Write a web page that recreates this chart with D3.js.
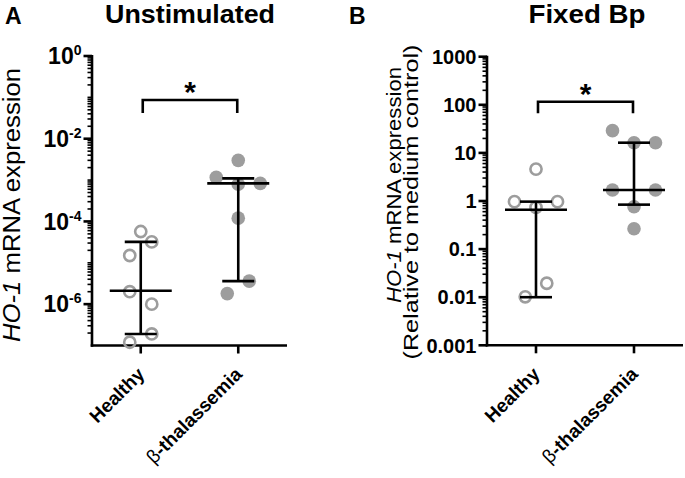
<!DOCTYPE html>
<html>
<head>
<meta charset="utf-8">
<script src="https://cdn.jsdelivr.net/npm/d3@7"></script>
<style>
  body { margin: 0; background: #fff; }
  svg { display: block; font-family: "Liberation Sans", Arial, sans-serif; }
</style>
</head>
<body>
<script>
// categories
var groups = ["Healthy", "β-thalassemia"];

// panel A (unstimulated), values per donor
var aHealthy = [5.7e-5, 3.2e-5, 1.5e-5, 2.0e-6, 1.0e-6, 1.9e-7, 1.2e-7];
var aThal = [3.0e-3, 1.16e-3, 7.9e-4, 8.3e-4, 1.2e-4, 3.6e-6, 1.8e-6];
// dot column within each group
var aHealthyCol = [0, 1, -1, -1, 1, 1, -1];
var aThalCol = [0, -2, 0, 2, 0, 1, -1];
// median, upper, lower of IQR
var aHealthyStats = [2.1e-6, 3.2e-5, 1.9e-7];
var aThalStats = [8.3e-4, 1.1e-3, 3.6e-6];

// panel B (fixed Bp, relative to medium)
var bHealthy = [4.6, 0.97, 0.97, 0.74, 0.0195, 0.0102];
var bThal = [29, 16.3, 16.3, 1.69, 1.69, 0.76, 0.265];
var bHealthyCol = [0, -2, 2, 0, 1, -1];
var bThalCol = [-2, 0, 2, -2, 2, 0, 0];
var bHealthyStats = [0.66, 0.97, 0.01];
var bThalStats = [1.69, 16.3, 0.84];

// significance brackets [bar value, leg value]
var aBracket = [0.086, 0.042];
var bBracket = [116, 67];

var aTicks = [1, 1e-2, 1e-4, 1e-6];
var aTickExp = ["0", "-2", "-4", "-6"];
var bTicks = [1000, 100, 10, 1, 0.1, 0.01, 0.001];
var bTickLabels = ["1000", "100", "10", "1", "0.1", "0.01", "0.001"];

var W = 685, H = 478;
var grey = "#9d9d9d";
var lw = 2.6;

var svg = d3.select("body").append("svg")
    .attr("width", W)
    .attr("height", H);

function drawPanel(p) {
    var g = svg.append("g");
    var x = d3.scalePoint().domain(groups).range([p.x0, p.x1]).padding(0.5);
    var y = d3.scaleLog().domain(p.domain).range([p.yb, p.yt]);

    // minor ticks
    var minor = [];
    var lo = Math.round(Math.log10(p.domain[0])), hi = Math.round(Math.log10(p.domain[1]));
    for (var e = lo; e < hi; e++) {
        for (var k = 2; k <= 10; k++) {
            var v = k * Math.pow(10, e);
            if (!p.ticks.some(function(t){ return Math.abs(t - v) / t < 1e-9; })) minor.push(v);
        }
    }
    g.selectAll(".minor").data(minor).enter().append("line")
        .attr("x1", p.x0 - 4.5).attr("x2", p.x0)
        .attr("y1", function(d){ return y(d); }).attr("y2", function(d){ return y(d); })
        .attr("stroke", "#000").attr("stroke-width", 1.6);

    g.selectAll(".major").data(p.ticks).enter().append("line")
        .attr("x1", p.x0 - 8.5).attr("x2", p.x0)
        .attr("y1", function(d){ return y(d); }).attr("y2", function(d){ return y(d); })
        .attr("stroke", "#000").attr("stroke-width", lw);

    // axis lines
    g.append("line").attr("x1", p.x0).attr("x2", p.x0)
        .attr("y1", p.yt - 1).attr("y2", p.yb + lw / 2)
        .attr("stroke", "#000").attr("stroke-width", lw);
    g.append("line").attr("x1", p.x0 - lw / 2).attr("x2", p.x1)
        .attr("y1", p.yb).attr("y2", p.yb)
        .attr("stroke", "#000").attr("stroke-width", lw);

    // x ticks
    g.selectAll(".xt").data(groups).enter().append("line")
        .attr("x1", function(d){ return x(d); }).attr("x2", function(d){ return x(d); })
        .attr("y1", p.yb).attr("y2", p.yb + 8)
        .attr("stroke", "#000").attr("stroke-width", lw);

    // tick labels
    var tl = g.selectAll(".tl").data(p.ticks).enter().append("text")
        .attr("x", p.x0 - 10.5)
        .attr("y", function(d){ return y(d) + p.tickFont * 0.36; })
        .attr("text-anchor", "end")
        .attr("font-size", p.tickFont + "px")
        .attr("font-weight", "bold");
    if (p.exps) {
        tl.text("10").append("tspan")
            .attr("dy", -9).attr("font-size", "14px")
            .text(function(d, i){ return p.exps[i]; });
    } else {
        tl.text(function(d, i){ return p.labels[i]; });
    }

    // category labels, rotated 45 degrees
    g.selectAll(".cl").data(groups).enter().append("g")
        .attr("transform", function(d){ return "translate(" + (x(d) + 5) + "," + (p.yb + 30) + ")"; })
        .append("text")
        .attr("transform", "rotate(-45)")
        .attr("text-anchor", "end")
        .attr("font-size", "19px")
        .attr("font-weight", "bold")
        .each(function(d){
            var t = d3.select(this);
            if (d.charAt(0) === "β") {
                t.append("tspan").attr("font-weight", "normal").text("β");
                t.append("tspan").text(d.slice(1));
            } else {
                t.text(d);
            }
        });

    // dots
    var sets = [
        {grp: groups[0], vals: p.healthy, cols: p.healthyCol, open: true},
        {grp: groups[1], vals: p.thal, cols: p.thalCol, open: false}
    ];
    sets.forEach(function(s){
        g.selectAll(null).data(s.vals).enter().append("circle")
            .attr("cx", function(d, i){ return x(s.grp) + s.cols[i] * p.unit; })
            .attr("cy", function(d){ return y(d); })
            .attr("r", s.open ? 5.6 : 6.8)
            .attr("fill", s.open ? "none" : grey)
            .attr("stroke", s.open ? grey : "none")
            .attr("stroke-width", 2.6);
    });

    // median + IQR
    [[groups[0], p.healthyStats], [groups[1], p.thalStats]].forEach(function(m){
        var cx = x(m[0]), st = m[1];
        g.append("line").attr("x1", cx).attr("x2", cx)
            .attr("y1", y(st[1])).attr("y2", y(st[2]))
            .attr("stroke", "#000").attr("stroke-width", lw);
        g.append("line").attr("x1", cx - 31).attr("x2", cx + 31)
            .attr("y1", y(st[0])).attr("y2", y(st[0]))
            .attr("stroke", "#000").attr("stroke-width", lw);
        [st[1], st[2]].forEach(function(v){
            g.append("line").attr("x1", cx - 16).attr("x2", cx + 16)
                .attr("y1", y(v)).attr("y2", y(v))
                .attr("stroke", "#000").attr("stroke-width", lw);
        });
    });

    // bracket
    var bx0 = x(groups[0]) + 2, bx1 = x(groups[1]) - 1;
    g.append("path")
        .attr("d", "M" + bx0 + "," + y(p.bracket[1]) + "V" + y(p.bracket[0]) + "H" + bx1 + "V" + y(p.bracket[1]))
        .attr("fill", "none").attr("stroke", "#000").attr("stroke-width", lw);
    g.append("text")
        .attr("x", (bx0 + bx1) / 2).attr("y", y(p.bracket[0]) + 2)
        .attr("text-anchor", "middle")
        .attr("font-size", "30px").attr("font-weight", "bold")
        .text("*");

    // titles
    g.append("text").attr("x", p.letterX).attr("y", 24)
        .attr("font-size", "23px").attr("font-weight", "bold").text(p.letter);
    g.append("text").attr("x", p.titleX).attr("y", 23)
        .attr("text-anchor", "middle")
        .attr("font-size", "25px").attr("font-weight", "bold")
        .attr("textLength", p.titleLen).attr("lengthAdjust", "spacingAndGlyphs")
        .text(p.title);

    // y labels
    p.ylab.forEach(function(l){
        var t = g.append("text")
            .attr("transform", "translate(" + l.x + "," + l.y + ") rotate(-90)")
            .attr("text-anchor", "middle")
            .attr("font-size", l.size + "px")
            .attr("textLength", l.len).attr("lengthAdjust", "spacingAndGlyphs");
        if (l.italic) {
            t.append("tspan").attr("font-style", "italic").text(l.italic);
        }
        t.append("tspan").text(l.text);
    });
}

drawPanel({
    x0: 92, x1: 287, yb: 345.5, yt: 56, domain: [1e-7, 1],
    ticks: aTicks, exps: aTickExp, tickFont: 23,
    healthy: aHealthy, thal: aThal, healthyCol: aHealthyCol, thalCol: aThalCol,
    healthyStats: aHealthyStats, thalStats: aThalStats, unit: 11,
    bracket: aBracket,
    letter: "A", letterX: 5, title: "Unstimulated", titleX: 190, titleLen: 170,
    ylab: [{x: 20, y: 205, size: 23, len: 274, italic: "HO-1", text: " mRNA expression"}]
});

drawPanel({
    x0: 487, x1: 683, yb: 345.3, yt: 56.7, domain: [0.001, 1000],
    ticks: bTicks, labels: bTickLabels, tickFont: 20,
    healthy: bHealthy, thal: bThal, healthyCol: bHealthyCol, thalCol: bThalCol,
    healthyStats: bHealthyStats, thalStats: bThalStats, unit: 10.75,
    bracket: bBracket,
    letter: "B", letterX: 349, title: "Fixed Bp", titleX: 587, titleLen: 117,
    ylab: [
        {x: 401, y: 185, size: 21, len: 236, italic: "HO-1", text: " mRNA expression"},
        {x: 418, y: 202, size: 21, len: 315, text: "(Relative to medium control)"}
    ]
});
</script>
</body>
</html>
